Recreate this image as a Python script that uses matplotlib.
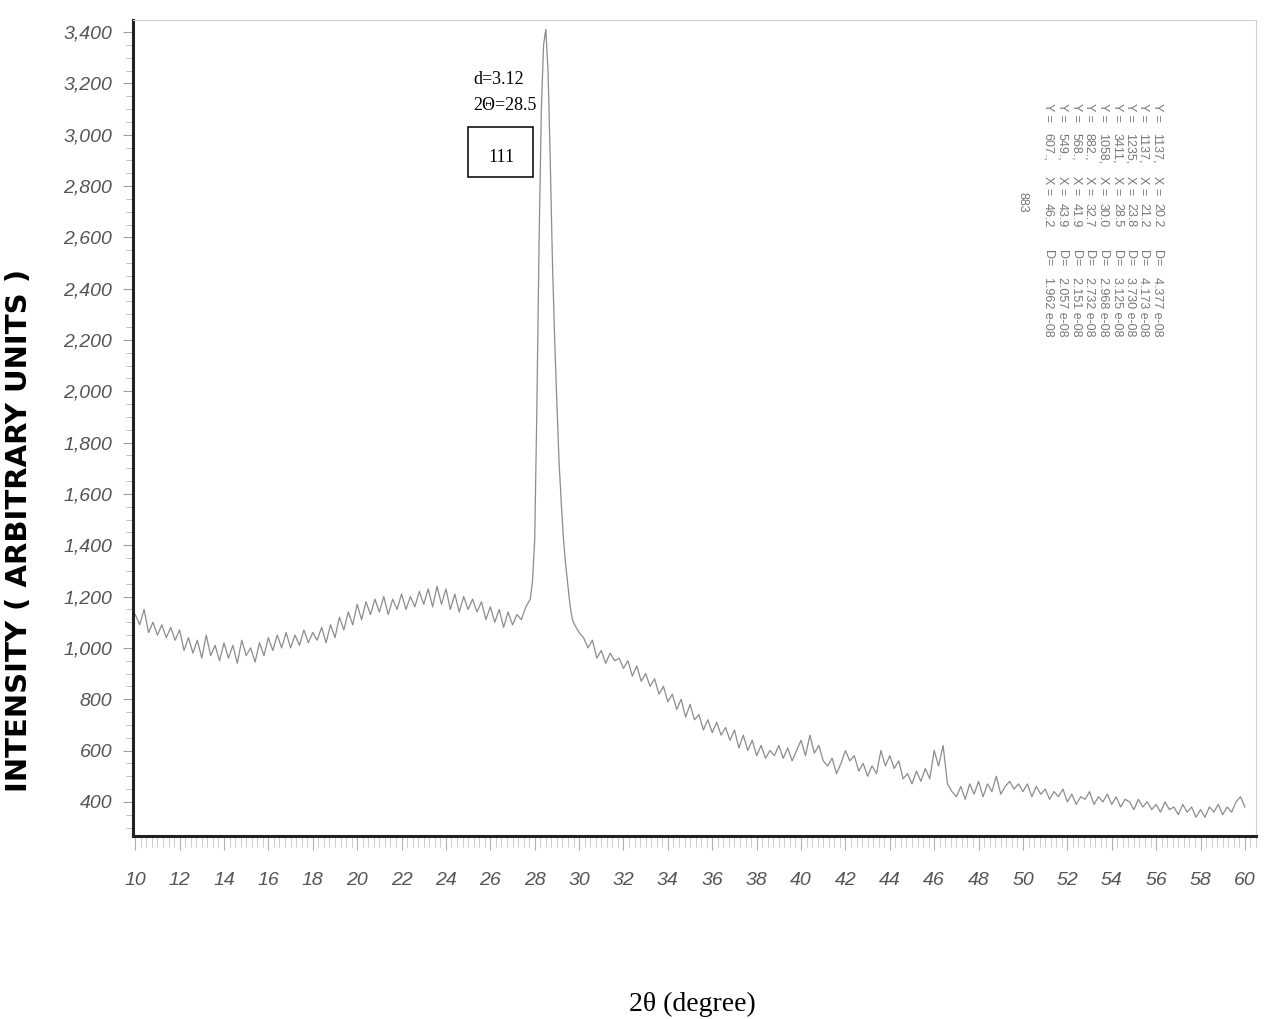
import matplotlib
matplotlib.use("Agg")
import matplotlib.pyplot as plt
import numpy as np
from matplotlib.ticker import MultipleLocator, FuncFormatter, FixedLocator
from matplotlib.patches import Rectangle

W, H = 1274, 1019

# ---- scan data (counts), 0.2 degree steps ----
seg_a_start = 10.0          # 10.0 ... 27.8
counts_a = [
    1130, 1090, 1150, 1060, 1100, 1050, 1090, 1040, 1080, 1030,
    1070, 990, 1040, 980, 1030, 960, 1050, 970, 1010, 950,
    1020, 960, 1010, 940, 1030, 970, 1000, 945, 1020, 970,
    1040, 990, 1050, 1000, 1060, 1000, 1050, 1010, 1070, 1020,
    1060, 1030, 1080, 1020, 1090, 1040, 1120, 1070, 1140, 1090,
    1170, 1110, 1180, 1130, 1190, 1140, 1200, 1130, 1190, 1150,
    1210, 1150, 1200, 1160, 1220, 1170, 1230, 1160, 1240, 1170,
    1230, 1150, 1210, 1140, 1200, 1150, 1190, 1140, 1180, 1110,
    1160, 1100, 1150, 1080, 1140, 1090, 1130, 1110, 1160, 1190,
]
seg_b_start = 28.0          # 28.0 ... 60.0
counts_b = [
    1420, 2600, 3350, 3250, 2500, 1950, 1560, 1320, 1160, 1090,
    1060, 1040, 1000, 1030, 960, 990, 940, 980, 950, 960,
    920, 950, 890, 930, 870, 900, 850, 880, 820, 850,
    790, 820, 760, 800, 730, 780, 720, 740, 680, 720,
    670, 710, 660, 690, 640, 680, 610, 660, 600, 640,
    580, 620, 570, 600, 580, 620, 570, 610, 560, 600,
    640, 580, 660, 590, 620, 560, 540, 570, 510, 550,
    600, 560, 580, 520, 550, 500, 540, 510, 600, 540,
    580, 530, 560, 490, 510, 470, 520, 480, 530, 490,
    600, 540, 620, 470, 440, 420, 460, 410, 470, 430,
    480, 420, 470, 440, 500, 430, 460, 480, 450, 470,
    440, 470, 420, 460, 430, 450, 410, 440, 420, 450,
    400, 430, 390, 420, 410, 440, 390, 420, 400, 430,
    390, 420, 380, 410, 400, 370, 410, 380, 400, 370,
    390, 360, 400, 370, 380, 350, 390, 360, 380, 340,
    370, 340, 380, 360, 390, 350, 380, 360, 400, 420,
    380,
]
scan_step = 0.2

# finer points across the (111) reflection
peak_2theta = [27.9, 28.1, 28.3, 28.5, 28.7, 28.9, 29.1, 29.3, 29.5, 29.7]
peak_counts = [1260, 1950, 3100, 3411, 2900, 2200, 1720, 1420, 1240, 1110]

# peak list printed by the diffractometer software
peak_list_y = ["1137,", "1137,", "1235,", "3411,", "1058,", "882.,", "568.,", "549.,", "607.,"]
peak_list_x = ["20.2", "21.2", "23.8", "28.5", "30.0", "32.7", "41.9", "43.9", "46.2"]
peak_list_d = ["4.377 e-08", "4.173 e-08", "3.730 e-08", "3.125 e-08", "2.968 e-08",
               "2.732 e-08", "2.151 e-08", "2.057 e-08", "1.962 e-08"]

y_ticks = list(range(400, 3401, 200))
x_ticks = list(range(10, 61, 2))

# ---- assemble the pattern ----
xa = seg_a_start + scan_step * np.arange(len(counts_a))
xb = seg_b_start + scan_step * np.arange(len(counts_b))
two_theta = np.concatenate([xa, xb, np.array(peak_2theta)])
intensity = np.concatenate([counts_a, counts_b, peak_counts]).astype(float)
order = np.argsort(two_theta)
two_theta, intensity = two_theta[order], intensity[order]

fig = plt.figure(figsize=(W / 100, H / 100), dpi=100)
fig.patch.set_facecolor("white")

def fx(px):
    return px / W

def fy(py):
    return 1 - py / H

ax = fig.add_axes([fx(133), fy(836), 1123 / W, 816 / H])
ax.plot(two_theta, intensity, color="#8c8c8c", lw=0.9)

ax.set_xlim(9.9, 60.5)
ax.set_ylim(267, 3447)

ax.xaxis.set_major_locator(FixedLocator(x_ticks))
ax.xaxis.set_minor_locator(MultipleLocator(0.25))
ax.yaxis.set_major_locator(FixedLocator(y_ticks))
ax.yaxis.set_minor_locator(MultipleLocator(50))
ax.yaxis.set_major_formatter(FuncFormatter(lambda v, p: f"{int(v):,}"))
ax.xaxis.set_major_formatter(FuncFormatter(lambda v, p: f"{int(v)}"))

for lab in ax.get_xticklabels() + ax.get_yticklabels():
    lab.set_fontfamily("Liberation Sans")
    lab.set_fontstyle("italic")
    lab.set_fontsize(14)

ax.tick_params(axis="x", which="major", direction="out", length=10, width=0.8,
               color="#b0b0b0", pad=16, labelcolor="#555555")
ax.tick_params(axis="x", which="minor", direction="out", length=8, width=0.6,
               color="#c4c4c4")
ax.tick_params(axis="y", which="major", direction="out", length=7, width=0.8,
               color="#a0a0a0", pad=8, labelcolor="#555555")
ax.tick_params(axis="y", which="minor", direction="out", length=5, width=0.6,
               color="#b8b8b8")

for side in ("left", "bottom"):
    ax.spines[side].set_linewidth(2.2)
    ax.spines[side].set_color("#222222")
for side in ("top", "right"):
    ax.spines[side].set_linewidth(0.8)
    ax.spines[side].set_color("#d0d0d0")

# axis titles
fig.text(fx(19), fy(530), "INTENSITY ( ARBITRARY UNITS )", rotation=90,
         family="DejaVu Sans", fontweight="heavy", fontsize=21,
         ha="center", va="center", color="black")
fig.text(fx(692), fy(1004), "2\u03b8 (degree)", family="Liberation Serif",
         fontsize=20, ha="center", va="center", color="black")

# (111) annotation
fig.text(fx(473), fy(80), "d=3.12", family="Liberation Serif", fontsize=13,
         ha="left", va="center")
fig.text(fx(473), fy(105), "2\u0398=28.5", family="Liberation Serif", fontsize=13,
         ha="left", va="center")
fig.patches.append(Rectangle((fx(468), fy(177)), (533 - 468) / W, (177 - 127) / H,
                             transform=fig.transFigure, fill=False,
                             edgecolor="black", lw=1.1))
fig.text(fx(501), fy(157), "111", family="Liberation Serif", fontsize=13,
         ha="center", va="center")

# rotated peak list
list_font = dict(family="Liberation Sans", fontsize=9, color="#777777",
                 rotation=270, ha="center", va="top")
col_x = [1157, 1143, 1130, 1117, 1103, 1089, 1076, 1062, 1048]
for cx, yv, xv, dv in zip(col_x, peak_list_y, peak_list_x, peak_list_d):
    fig.text(fx(cx), fy(103), "Y =", **list_font)
    fig.text(fx(cx), fy(133), yv, **list_font)
    fig.text(fx(cx), fy(176), "X =", **list_font)
    fig.text(fx(cx), fy(203), xv, **list_font)
    fig.text(fx(cx), fy(250), "D=", **list_font)
    fig.text(fx(cx), fy(277), dv, **list_font)
fig.text(fx(1023), fy(192), "883", **list_font)

fig.savefig("out.png", dpi=100, facecolor="white")
